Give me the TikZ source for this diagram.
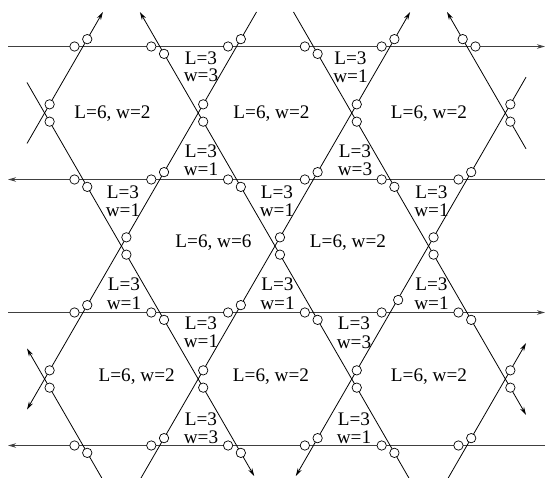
\documentclass[tikz,border=0pt]{standalone}
\usepackage{fontspec}
\setmainfont{Liberation Serif}
\usetikzlibrary{arrows.meta}
\newcommand\trilabel[5]{%
  \node[lbl] (#1L) at (#2,#3) {L=3};
  \node[lbl] (#1w) at (#2,#4) {w=#5};}
\begin{document}
\begin{tikzpicture}[x=1pt,y=-1pt,
  lat/.style={line width=0.8pt, black},
  hor/.style={line width=1.2pt, black!75},
  tip/.style={-{Stealth[length=8pt,width=4.5pt]}},
  ring/.style={circle, draw=black, fill=white, line width=0.7pt, inner sep=0pt, minimum size=9.4pt},
  lbl/.style={anchor=base, inner sep=0pt, font=\fontsize{19.2}{22}\selectfont}]
\useasboundingbox (0,0) rectangle (546,478);

% horizontal lines
\coordinate (H1s) at (8,46.5);    \coordinate (H1e) at (545,46.5);
\coordinate (H2s) at (545,179.5); \coordinate (H2e) at (8,179.5);
\coordinate (H3s) at (8,312.5);   \coordinate (H3e) at (545,312.5);
\coordinate (H4s) at (545,445.5); \coordinate (H4e) at (8,445.5);
\draw[hor,tip] (H1s) -- (H1e);
\draw[hor,tip] (H2s) -- (H2e);
\draw[hor,tip] (H3s) -- (H3e);
\draw[hor,tip] (H4s) -- (H4e);

% rising diagonals (/)
\coordinate (P1s) at (27,143.5);  \coordinate (P1e) at (102.9,12);
\coordinate (P2s) at (256.5,12);  \coordinate (P2e) at (27,409.5);
\coordinate (P3s) at (141.0,478); \coordinate (P3e) at (410.1,12);
\coordinate (P4s) at (526,77.2);  \coordinate (P4e) at (295.8,476);
\coordinate (P5s) at (448.2,478); \coordinate (P5e) at (526,343.2);
\draw[lat,tip] (P1s) -- (P1e);
\draw[lat,tip] (P2s) -- (P2e);
\draw[lat,tip] (P3s) -- (P3e);
\draw[lat,tip] (P4s) -- (P4e);
\draw[lat,tip] (P5s) -- (P5e);

% falling diagonals (\)
\coordinate (Q1s) at (27,82.5);   \coordinate (Q1e) at (254.2,476);
\coordinate (Q2s) at (408.9,478); \coordinate (Q2e) at (139.9,12);
\coordinate (Q3s) at (293.5,12);  \coordinate (Q3e) at (526,414.8);
\coordinate (Q4s) at (526,148.8); \coordinate (Q4e) at (447.0,12);
\coordinate (Q5s) at (101.8,478); \coordinate (Q5e) at (27,348.5);
\draw[lat,tip] (Q1s) -- (Q1e);
\draw[lat,tip] (Q2s) -- (Q2e);
\draw[lat,tip] (Q3s) -- (Q3e);
\draw[lat,tip] (Q4s) -- (Q4e);
\draw[lat,tip] (Q5s) -- (Q5e);

% circles at crossings with the horizontal lines
\foreach \r/\y in {1/46.5,2/179.5,3/312.5,4/445.5} {
  \foreach \k in {0,...,5} {
    \pgfmathsetmacro{\X}{83+\k*76.79}
    \pgfmathsetmacro{\dy}{ifthenelse(mod(\r+\k,2)==1,-7.36,7.36)}
    \pgfmathtruncatemacro{\spc}{(\r==1)*(\k==5)+2*(\r==3)*(\k==4)}
    \ifcase\spc
      \node[ring] (h\r-\k) at (\X-8.5,\y) {};
      \node[ring] (d\r-\k) at (\X+4.25,\y+\dy) {};
    \or
      \node[ring] (h\r-\k) at (\X+8.5,\y) {};
      \node[ring] (d\r-\k) at (\X-4.25,\y-7.36) {};
    \or
      \node[ring] (h\r-\k) at (\X-8.5,\y) {};
      \node[ring] (d\r-\k) at (\X+8,\y-12.5) {};
    \fi
  }
}

% circles at crossings of the diagonals
\foreach \y/\xs in {113/{44.6,198.2,351.77,505.35},246/{121.4,274.97,428.56},379/{44.6,198.2,351.77,505.35}} {
  \foreach \x [count=\i] in \xs {
    \node[ring] (xu\y-\i) at (\x+5,\y-8.66) {};
    \node[ring] (xl\y-\i) at (\x+5,\y+8.66) {};
  }
}

% hexagon labels
\node[lbl] (hx1) at (112.5,118.3) {L=6, w=2};
\node[lbl] (hx2) at (271.5,118.3) {L=6, w=2};
\node[lbl] (hx3) at (429,118.3) {L=6, w=2};
\node[lbl] (hx4) at (213.5,247.3) {L=6, w=6};
\node[lbl] (hx5) at (348,247.3) {L=6, w=2};
\node[lbl] (hx6) at (136.7,381) {L=6, w=2};
\node[lbl] (hx7) at (271,381) {L=6, w=2};
\node[lbl] (hx8) at (429,381) {L=6, w=2};

% triangle labels
\trilabel{t1}{201}{64.2}{82}{3}
\trilabel{t2}{350.5}{64.2}{82.2}{1}
\trilabel{t3}{201}{157.5}{175.5}{1}
\trilabel{t4}{355}{157.5}{175.5}{3}
\trilabel{t5}{123}{198.5}{216.5}{1}
\trilabel{t6}{277}{198.5}{216.5}{1}
\trilabel{t7}{431.5}{198.5}{216.5}{1}
\trilabel{t8}{124}{290.7}{309}{1}
\trilabel{t9}{277.5}{290.7}{309}{1}
\trilabel{t10}{431.5}{290.7}{309}{1}
\trilabel{t11}{201}{329}{347.3}{1}
\trilabel{t12}{354}{330}{348}{3}
\trilabel{t13}{201}{425}{443}{3}
\trilabel{t14}{354}{425.3}{443.5}{1}
\end{tikzpicture}
\end{document}
